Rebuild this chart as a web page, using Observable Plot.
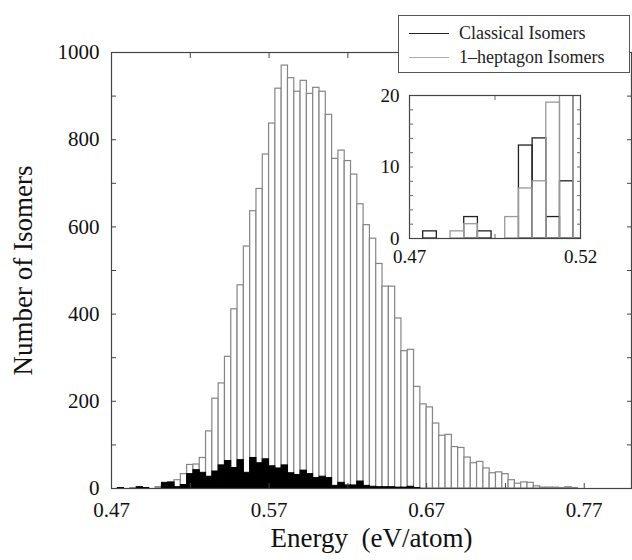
<!DOCTYPE html>
<html><head><meta charset="utf-8">
<script src="https://cdn.jsdelivr.net/npm/d3@7"></script>
<script src="https://cdn.jsdelivr.net/npm/@observablehq/plot@0.6"></script>
<style>
html,body{margin:0;padding:0;background:#fff;}
#wrap{position:relative;width:632px;height:560px;overflow:hidden;font-family:"Liberation Serif","DejaVu Serif",serif;}
#wrap svg{position:absolute;left:0;top:0;}
.legend{position:absolute;left:398px;top:15px;width:232px;height:58px;box-sizing:border-box;border:1px solid #555;background:#fff;}
.legend .row{position:absolute;left:0;height:20px;width:100%;}
.legend .sw{position:absolute;left:10px;width:40px;top:10px;height:0;border-top:1.3px solid #222;}
.legend .lb{position:absolute;left:60px;top:0;font-size:18px;line-height:20px;color:#222;white-space:nowrap;}
</style></head><body><div id="wrap"></div>
<script>
// Bin left edges (eV/atom)
const energyBins = [0.474,0.478,0.482,0.486,0.490,0.494,0.498,0.502,0.506,0.510,
 0.514,0.518,0.522,0.526,0.530,0.534,0.538,0.542,0.546,0.550,
 0.554,0.558,0.562,0.566,0.570,0.574,0.578,0.582,0.586,0.590,
 0.594,0.598,0.602,0.606,0.610,0.614,0.618,0.622,0.626,0.630,
 0.634,0.638,0.642,0.646,0.650,0.654,0.658,0.662,0.666,0.670,
 0.674,0.678,0.682,0.686,0.690,0.694,0.698,0.702,0.706,0.710,
 0.714,0.718,0.722,0.726,0.730,0.734,0.738,0.742,0.746,0.750,
 0.754,0.758,0.762];
const binWidth = 0.004;
// 1-heptagon isomers
const heptagonCounts = [0,0,1,2,0,0,3,7,8,19,
 33,54,55,70,131,206,241,302,411,466,
 555,636,687,766,837,917,970,941,910,935,
 905,919,910,857,756,775,751,720,652,604,
 573,515,463,463,390,315,318,233,193,186,
 149,121,123,95,93,71,58,61,46,35,
 37,33,19,11,14,13,5,2,2,2,
 1,3,1];
// Classical isomers
const classicalCounts = [1,0,0,3,1,0,0,13,14,3,
 8,33,42,36,27,39,53,63,47,65,
 36,70,58,67,51,46,53,35,31,41,
 33,24,27,24,6,13,7,7,16,6,
 4,3,3,3,2,2,4,1,0,0,
 0,0,0,0,0,0,0,0,0,0,
 0,0,0,0,0,0,0,0,0,0,
 0,0,0];
const seriesNames = ["Classical Isomers", "1\u2013heptagon Isomers"];
const seriesColors = ["#222", "#aaa"];
const mainXTicks = [0.47, 0.57, 0.67, 0.77];
const mainXMinor = [0.52, 0.57, 0.62, 0.67, 0.72, 0.77];
const mainYTicks = [0, 200, 400, 600, 800, 1000];
const mainYMinor = [100, 200, 300, 400, 500, 600, 700, 800, 900];
const insetXTicks = [0.47, 0.52];
const insetXMinor = [0.495];
const insetYTicks = [0, 10, 20];
const insetYMinor = [2, 4, 6, 8, 10, 12, 14, 16, 18];
const xTitle = "Energy\u00a0 (eV/atom)";
const yTitle = "Number of Isomers";

const FONT = '"Liberation Serif","DejaVu Serif",serif';
const rows = energyBins.map((lo, i) => ({lo, hi: lo + binWidth, hept: heptagonCounts[i], clas: classicalCounts[i]}));
const blank = () => "";
const fmt2 = d3.format(".2f");
const fmtInt = d3.format("d");

const main = Plot.plot({
  width: 632, height: 560,
  marginLeft: 111, marginRight: 1, marginTop: 52, marginBottom: 72,
  style: {fontFamily: FONT, fontSize: "21px", color: "#111", background: "transparent"},
  x: {domain: [0.47, 0.80]},
  y: {domain: [0, 1000]},
  marks: [
    Plot.rectY(rows.filter(d => d.hept > 0), {x1: "lo", x2: "hi", y: "hept", fill: "white", stroke: "#858585", strokeWidth: 1.2, inset: 0}),
    Plot.rectY(rows.filter(d => d.clas > 0), {x1: "lo", x2: "hi", y: "clas", fill: "black", stroke: "black", strokeWidth: 1, inset: 0}),
    Plot.frame({stroke: "#444", strokeWidth: 1.2}),
    Plot.axisY(mainYTicks, {anchor: "left", tickSize: 0, tickPadding: 12, tickFormat: fmtInt, label: null, fontSize: 21}),
    Plot.axisY(mainYMinor, {anchor: "left", tickSize: 5, dx: 5, tickFormat: blank, label: null, stroke: "#444"}),
    Plot.axisY(mainYMinor, {anchor: "right", tickSize: 5, dx: -5, tickFormat: blank, label: null, stroke: "#444"}),
    Plot.axisX(mainXTicks, {anchor: "bottom", tickSize: 0, tickPadding: 14, tickFormat: fmt2, label: null, fontSize: 21}),
    Plot.axisX(mainXMinor, {anchor: "bottom", tickSize: 5, dy: -5, tickFormat: blank, label: null, stroke: "#444"}),
    Plot.axisX(mainXMinor, {anchor: "top", tickSize: 5, dy: 5, tickFormat: blank, label: null, stroke: "#444"}),
    Plot.text([yTitle], {text: d => d, frameAnchor: "left", dx: -88, rotate: -90, textAnchor: "middle", lineAnchor: "middle", fontSize: 27, fill: "#111"}),
    Plot.text([xTitle], {text: d => d, frameAnchor: "bottom", dy: 50, textAnchor: "middle", lineAnchor: "middle", fontSize: 27, fill: "#111"})
  ]
});

const inset = Plot.plot({
  width: 220, height: 190,
  marginLeft: 39, marginRight: 10, marginTop: 15, marginBottom: 32,
  style: {fontFamily: FONT, fontSize: "19px", color: "#111", background: "transparent", overflow: "visible"},
  x: {domain: [0.47, 0.52]},
  y: {domain: [0, 20]},
  marks: [
    Plot.rectY(rows.filter(d => d.clas > 0), {x1: "lo", x2: "hi", y: "clas", fill: "none", stroke: "#222", strokeWidth: 1.3, inset: 0, clip: true}),
    Plot.rectY(rows.filter(d => d.hept > 0), {x1: "lo", x2: "hi", y: "hept", fill: "none", stroke: "#999", strokeWidth: 1.3, inset: 0, clip: true}),
    Plot.frame({stroke: "#444", strokeWidth: 1.2}),
    Plot.axisY(insetYTicks, {anchor: "left", tickSize: 0, tickPadding: 10, label: null, fontSize: 19}),
    Plot.axisY(insetYMinor, {anchor: "left", tickSize: 4, dx: 4, tickFormat: blank, label: null, stroke: "#666"}),
    Plot.axisY(insetYMinor, {anchor: "right", tickSize: 4, dx: -4, tickFormat: blank, label: null, stroke: "#666"}),
    Plot.axisX(insetXTicks, {anchor: "bottom", tickSize: 0, tickPadding: 11, tickFormat: fmt2, label: null, fontSize: 19}),
    Plot.axisX(insetXMinor, {anchor: "top", tickSize: 4, dy: 4, tickFormat: blank, label: null, stroke: "#666"}),
    Plot.axisX(insetXMinor, {anchor: "bottom", tickSize: 4, dy: -4, tickFormat: blank, label: null, stroke: "#666"})
  ]
});
inset.style.left = "370px";
inset.style.top = "80px";

const wrap = document.getElementById("wrap");
wrap.appendChild(main);
wrap.appendChild(inset);

const legend = document.createElement("div");
legend.className = "legend";
seriesNames.forEach((name, i) => {
  const row = document.createElement("div");
  row.className = "row";
  row.style.top = (7 + i * 24) + "px";
  const sw = document.createElement("div");
  sw.className = "sw";
  sw.style.borderTopColor = seriesColors[i];
  const lb = document.createElement("div");
  lb.className = "lb";
  lb.textContent = name;
  row.appendChild(sw); row.appendChild(lb);
  legend.appendChild(row);
});
wrap.appendChild(legend);
</script>
</body></html>
